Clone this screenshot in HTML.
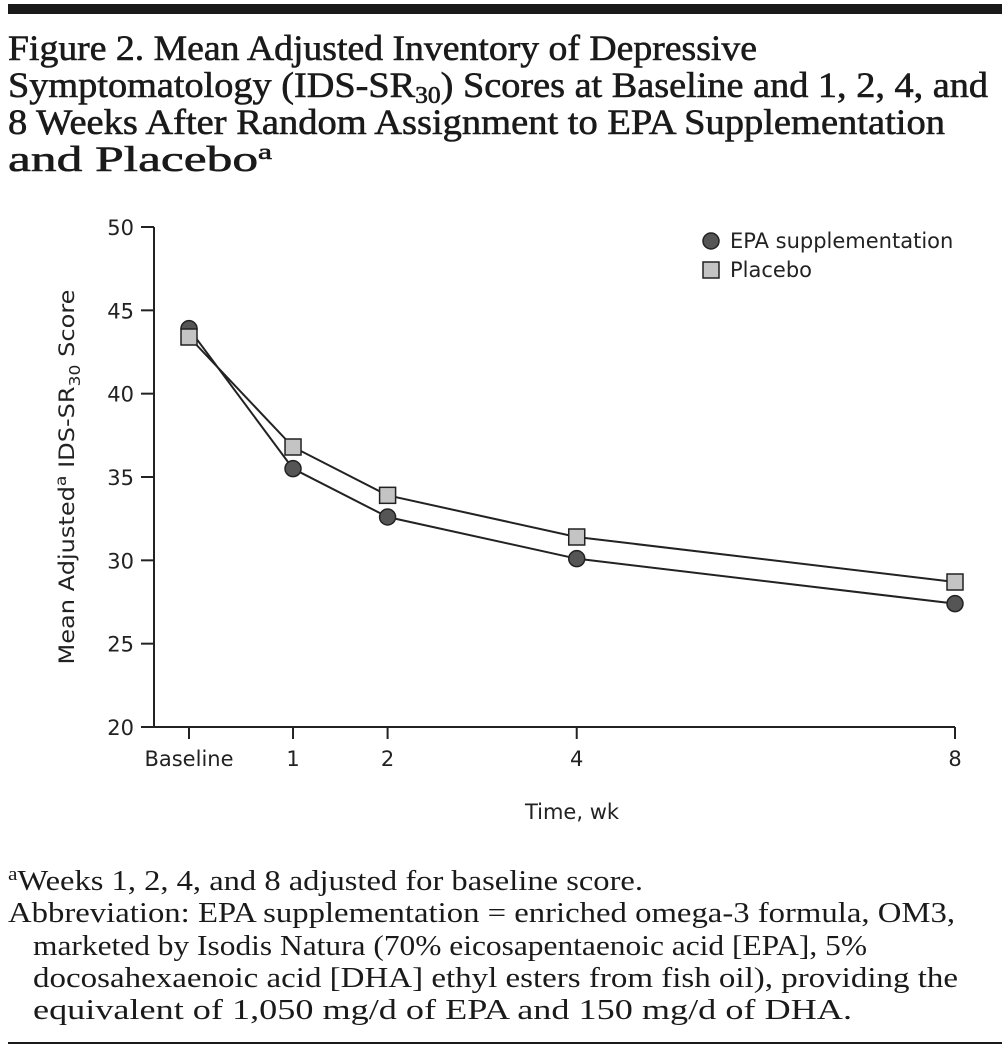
<!DOCTYPE html>
<html><head><meta charset="utf-8"><style>
html,body{margin:0;padding:0;background:#fff;}
svg{display:block;}
.t{font-family:"Liberation Serif",serif;font-size:36px;fill:#1a1a1a;stroke:#1a1a1a;stroke-width:0.6px;}
.f{font-family:"Liberation Serif",serif;font-size:29px;fill:#1a1a1a;}
.s{font-family:"DejaVu Sans","Liberation Sans",sans-serif;font-size:21px;fill:#222;}
</style></head><body>
<svg id="chart" width="1002" height="1051" viewBox="0 0 1002 1051">
<rect x="8" y="4" width="994" height="10" fill="#1a1a1a"/>
<g>
<text class="t" x="8" y="60" textLength="749" lengthAdjust="spacingAndGlyphs">Figure 2. Mean Adjusted Inventory of Depressive</text>
<text class="t" x="8" y="97" textLength="980" lengthAdjust="spacingAndGlyphs">Symptomatology (IDS-SR<tspan font-size="24" dy="6">30</tspan><tspan dy="-6">) Scores at Baseline and 1, 2, 4, and</tspan></text>
<text class="t" x="8" y="134" textLength="937" lengthAdjust="spacingAndGlyphs">8 Weeks After Random Assignment to EPA Supplementation</text>
<text class="t" x="8" y="171" textLength="264" lengthAdjust="spacingAndGlyphs">and Placebo<tspan font-size="22" dy="-12">a</tspan></text>
</g>
<g id="plot"></g>
<g>
<text class="f" x="8" y="890" textLength="635" lengthAdjust="spacingAndGlyphs"><tspan font-size="19" dy="-10">a</tspan><tspan dy="10">Weeks 1, 2, 4, and 8 adjusted for baseline score.</tspan></text>
<text class="f" x="8" y="922" textLength="947" lengthAdjust="spacingAndGlyphs">Abbreviation: EPA supplementation = enriched omega-3 formula, OM3,</text>
<text class="f" x="33" y="955" textLength="834" lengthAdjust="spacingAndGlyphs">marketed by Isodis Natura (70% eicosapentaenoic acid [EPA], 5%</text>
<text class="f" x="33" y="987" textLength="925" lengthAdjust="spacingAndGlyphs">docosahexaenoic acid [DHA] ethyl esters from fish oil), providing the</text>
<text class="f" x="33" y="1019" textLength="819" lengthAdjust="spacingAndGlyphs">equivalent of 1,050 mg/d of EPA and 150 mg/d of DHA.</text>
</g>
<rect x="8" y="1042" width="994" height="2" fill="#1a1a1a"/>
</svg>
<script>
const categories = ["Baseline","1","2","4","8"];
const weeks = [-0.1, 1, 2, 4, 8];
const epaValues = [43.9, 35.5, 32.6, 30.1, 27.4];
const placeboValues = [43.4, 36.8, 33.9, 31.4, 28.7];
const yTicks = [20, 25, 30, 35, 40, 45, 50];

const NS = "http://www.w3.org/2000/svg";
const g = document.getElementById("plot");
const X0 = 154, Y0 = 727, YT = 227;
const xs = w => 189 + (w - (-0.1)) * (955 - 189) / 8.1;
const ys = v => Y0 - (v - 20) * (Y0 - YT) / 30;
function mk(tag, attrs, parent) {
  const e = document.createElementNS(NS, tag);
  for (const k in attrs) e.setAttribute(k, attrs[k]);
  (parent || g).appendChild(e);
  return e;
}
let e;
e = mk("line", {x1: X0, y1: YT, x2: X0, y2: Y0, stroke: "#222", "stroke-width": 2});


e = mk("line", {x1: 141, y1: Y0, x2: 955, y2: Y0, stroke: "#222", "stroke-width": 2});


yTicks.forEach(v => {
  const y = ys(v);
  e = mk("line", {x1: 141, y1: y, x2: X0, y2: y, stroke: "#222", "stroke-width": 2});
  
  
  e = mk("text", {x: 134, y: y + 8, "text-anchor": "end", class: "s", "font-size": "22"});
  e.textContent = v;
  
  
});
weeks.forEach((w, i) => {
  const x = xs(w);
  e = mk("line", {x1: x, y1: Y0, x2: x, y2: Y0 + 12, stroke: "#222", "stroke-width": 2});
  
  
  e = mk("text", {x: x, y: 766, "text-anchor": "middle", class: "s", "font-size": "22"});
  e.textContent = categories[i];
  
  
});
e = mk("text", {x: 572, y: 819, "text-anchor": "middle", class: "s", "font-size": "22"});
e.textContent = "Time, wk";


e = mk("text", {x: 0, y: 0, "text-anchor": "middle", class: "s", "font-size": "22", textLength: "375", lengthAdjust: "spacingAndGlyphs", transform: "translate(74,477) rotate(-90)"});
e.innerHTML = 'Mean Adjusted<tspan font-size="15" dy="-8">a</tspan><tspan dy="8"> IDS-SR</tspan><tspan font-size="15" dy="6">30</tspan><tspan dy="-6"> Score</tspan>';



function pts(vals) { return vals.map((v, i) => xs(weeks[i]) + "," + ys(v)).join(" "); }
e = mk("polyline", {points: pts(epaValues), fill: "none", stroke: "#222", "stroke-width": 2});


e = mk("polyline", {points: pts(placeboValues), fill: "none", stroke: "#222", "stroke-width": 2});


epaValues.forEach((v, i) => {
  e = mk("circle", {cx: xs(weeks[i]), cy: ys(v), r: 8, fill: "#555", stroke: "#222", "stroke-width": 1.5});
  
  
});
placeboValues.forEach((v, i) => {
  e = mk("rect", {x: xs(weeks[i]) - 8, y: ys(v) - 8, width: 16, height: 16, fill: "#c4c4c4", stroke: "#222", "stroke-width": 1.5});
  
  
});
e = mk("circle", {cx: 711, cy: 241, r: 8, fill: "#555", stroke: "#222", "stroke-width": 1.5});


e = mk("text", {x: 730, y: 248, class: "s", "font-size": "19"});
e.textContent = "EPA supplementation";


e = mk("rect", {x: 703, y: 262, width: 16, height: 16, fill: "#c4c4c4", stroke: "#222", "stroke-width": 1.5});


e = mk("text", {x: 730, y: 277, class: "s", "font-size": "19"});
e.textContent = "Placebo";


</script>
</body></html>
